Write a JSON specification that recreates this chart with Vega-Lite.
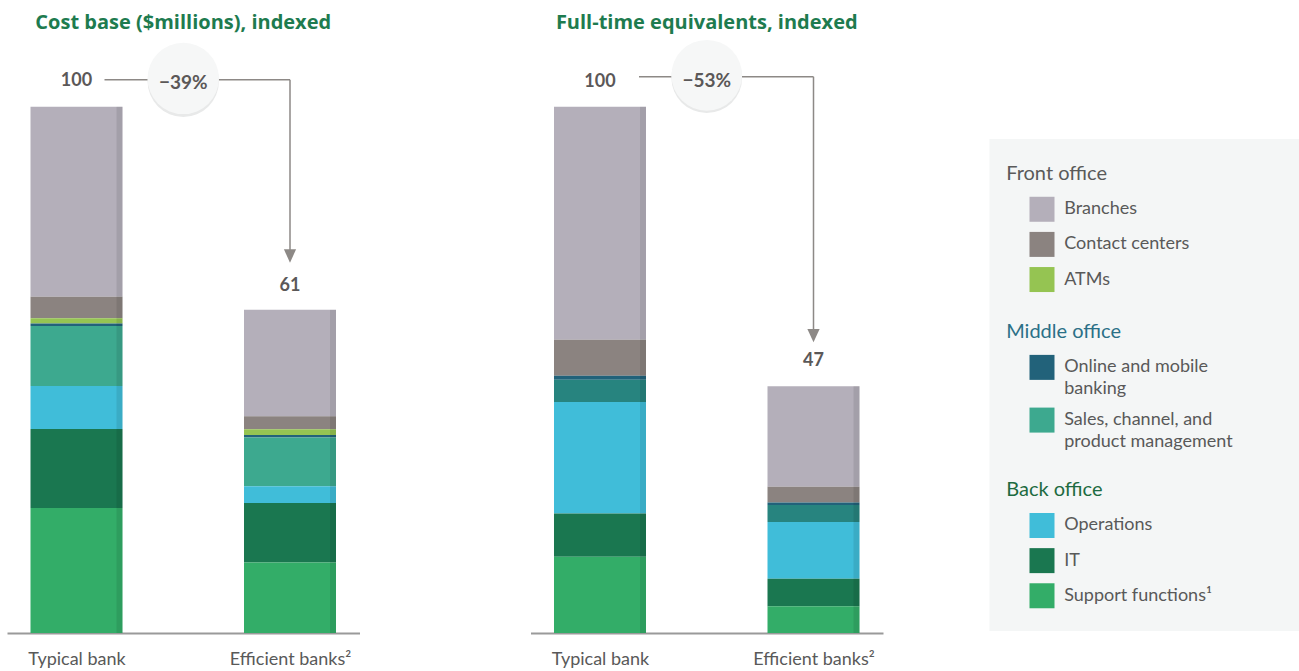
{
  "$schema": "https://vega.github.io/schema/vega-lite/v6.json",
  "padding": {"left": 7, "top": 13, "right": 0, "bottom": 0},
  "background": "white",
  "config": {
    "font": "Lato",
    "view": {"stroke": null},
    "axisX": {"domainColor": "#9a9a9a", "domainWidth": 2, "ticks": false, "grid": false, "labelAngle": 0, "labelFontSize": 18, "labelColor": "#595959", "labelPadding": 17.5, "labelFont": "Lato"}
  },
  "datasets": {
    "segments": [
      {"metric": "cost", "bank": "Typical bank", "item": "Branches", "value": 36.1, "rank": 1},
      {"metric": "cost", "bank": "Typical bank", "item": "Contact centers", "value": 4.1, "rank": 2},
      {"metric": "cost", "bank": "Typical bank", "item": "ATMs", "value": 1.0, "rank": 3},
      {"metric": "cost", "bank": "Typical bank", "item": "Online and mobile banking", "value": 0.45, "rank": 4},
      {"metric": "cost", "bank": "Typical bank", "item": "Sales, channel, and product management", "value": 11.4, "rank": 5},
      {"metric": "cost", "bank": "Typical bank", "item": "Operations", "value": 8.2, "rank": 6},
      {"metric": "cost", "bank": "Typical bank", "item": "IT", "value": 15.0, "rank": 7},
      {"metric": "cost", "bank": "Typical bank", "item": "Support functions", "value": 23.75, "rank": 8},
      {"metric": "cost", "bank": "Efficient banks²", "item": "Branches", "value": 20.2, "rank": 1},
      {"metric": "cost", "bank": "Efficient banks²", "item": "Contact centers", "value": 2.5, "rank": 2},
      {"metric": "cost", "bank": "Efficient banks²", "item": "ATMs", "value": 1.1, "rank": 3},
      {"metric": "cost", "bank": "Efficient banks²", "item": "Online and mobile banking", "value": 0.45, "rank": 4},
      {"metric": "cost", "bank": "Efficient banks²", "item": "Sales, channel, and product management", "value": 9.25, "rank": 5},
      {"metric": "cost", "bank": "Efficient banks²", "item": "Operations", "value": 3.2, "rank": 6},
      {"metric": "cost", "bank": "Efficient banks²", "item": "IT", "value": 11.3, "rank": 7},
      {"metric": "cost", "bank": "Efficient banks²", "item": "Support functions", "value": 13.4, "rank": 8},
      {"metric": "fte", "bank": "Typical bank", "item": "Branches", "value": 44.3, "rank": 1},
      {"metric": "fte", "bank": "Typical bank", "item": "Contact centers", "value": 6.8, "rank": 2},
      {"metric": "fte", "bank": "Typical bank", "item": "Online and mobile banking", "value": 0.8, "rank": 4},
      {"metric": "fte", "bank": "Typical bank", "item": "Sales, channel, and product management", "value": 4.2, "rank": 5},
      {"metric": "fte", "bank": "Typical bank", "item": "Operations", "value": 21.2, "rank": 6},
      {"metric": "fte", "bank": "Typical bank", "item": "IT", "value": 8.2, "rank": 7},
      {"metric": "fte", "bank": "Typical bank", "item": "Support functions", "value": 14.5, "rank": 8},
      {"metric": "fte", "bank": "Efficient banks²", "item": "Branches", "value": 19.1, "rank": 1},
      {"metric": "fte", "bank": "Efficient banks²", "item": "Contact centers", "value": 3.0, "rank": 2},
      {"metric": "fte", "bank": "Efficient banks²", "item": "Online and mobile banking", "value": 0.5, "rank": 4},
      {"metric": "fte", "bank": "Efficient banks²", "item": "Sales, channel, and product management", "value": 3.2, "rank": 5},
      {"metric": "fte", "bank": "Efficient banks²", "item": "Operations", "value": 10.8, "rank": 6},
      {"metric": "fte", "bank": "Efficient banks²", "item": "IT", "value": 5.2, "rank": 7},
      {"metric": "fte", "bank": "Efficient banks²", "item": "Support functions", "value": 5.1, "rank": 8}
    ],
    "totals": [
      {"metric": "cost", "bank": "Typical bank", "total": 100, "label": "100"},
      {"metric": "cost", "bank": "Efficient banks²", "total": 61, "label": "61"},
      {"metric": "fte", "bank": "Typical bank", "total": 100, "label": "100"},
      {"metric": "fte", "bank": "Efficient banks²", "total": 47, "label": "47"}
    ],
    "changes": [
      {"metric": "cost", "from": "Typical bank", "to": "Efficient banks²", "start": 100, "end": 61, "label": "−39%"},
      {"metric": "fte", "from": "Typical bank", "to": "Efficient banks²", "start": 100, "end": 47, "label": "−53%"}
    ],
    "legendGroups": [
      {"key": "Front office"},
      {"key": "Middle office"},
      {"key": "Back office"}
    ],
    "legendItems": [
      {"key": "Branches", "label": "Branches"},
      {"key": "Contact centers", "label": "Contact centers"},
      {"key": "ATMs", "label": "ATMs"},
      {"key": "Online and mobile banking", "label": "Online and mobile\nbanking"},
      {"key": "Sales, channel, and product management", "label": "Sales, channel, and\nproduct management"},
      {"key": "Operations", "label": "Operations"},
      {"key": "IT", "label": "IT"},
      {"key": "Support functions", "label": "Support functions¹"}
    ]
  },
  "resolve": {"scale": {"color": "independent"}},
  "spacing": 106.5,
  "hconcat": [
    {
      "spacing": 170.5,
      "resolve": {"scale": {"color": "independent"}},
      "hconcat": [
        {
          "width": 352.5,
          "height": 600,
          "title": {"text": "Cost base ($millions), indexed", "fontSize": 20, "fontWeight": "bold", "color": "#1e7b4f", "anchor": "middle", "baseline": "middle", "offset": -10, "font": "Open Sans"},
          "layer": [
            {
              "data": {"name": "segments"},
              "transform": [{"filter": "datum.metric === 'cost'"}],
              "mark": {"type": "bar", "width": 92},
              "encoding": {
                "x": {"field": "bank", "type": "nominal", "title": null, "scale": {"type": "point", "domain": ["Typical bank", "Efficient banks²"], "padding": 0.3255}},
                "y": {"field": "value", "type": "quantitative", "stack": "zero", "axis": null, "scale": {"domain": [0, 114], "nice": false}},
                "color": {"field": "item", "type": "nominal", "legend": null, "scale": {"domain": ["Branches", "Contact centers", "ATMs", "Online and mobile banking", "Sales, channel, and product management", "Operations", "IT", "Support functions"], "range": ["#b4afba", "#8b8380", "#95c452", "#22627a", "#3da98f", "#40bdd9", "#1a7750", "#33ad68"]}},
                "order": {"field": "rank", "sort": "descending"}
              }
            },
            {
              "data": {"name": "segments"},
              "transform": [{"filter": "datum.metric === 'cost'"}],
              "mark": {"type": "bar", "width": 6, "xOffset": 43, "color": "#000000", "opacity": 0.09},
              "encoding": {
                "x": {"field": "bank", "type": "nominal", "title": null, "scale": {"type": "point", "domain": ["Typical bank", "Efficient banks²"], "padding": 0.3255}},
                "y": {"field": "value", "type": "quantitative", "stack": "zero", "axis": null, "scale": {"domain": [0, 114], "nice": false}},
                "detail": {"field": "item"},
                "order": {"field": "rank", "sort": "descending"}
              }
            },
            {
              "data": {"name": "changes"},
              "transform": [{"filter": "datum.metric === 'cost'"}],
              "mark": {"type": "rule", "color": "#8d8986", "strokeWidth": 1.5, "xOffset": 28, "yOffset": -27},
              "encoding": {
                "x": {"field": "from", "type": "nominal", "title": null, "scale": {"type": "point", "domain": ["Typical bank", "Efficient banks²"], "padding": 0.3255}},
                "x2": {"field": "to"},
                "y": {"field": "start", "type": "quantitative", "axis": null, "scale": {"domain": [0, 114], "nice": false}}
              }
            },
            {
              "data": {"name": "changes"},
              "transform": [{"filter": "datum.metric === 'cost'"}],
              "mark": {"type": "rule", "color": "#8d8986", "strokeWidth": 1.5, "yOffset": -27, "y2Offset": -57},
              "encoding": {
                "x": {"field": "to", "type": "nominal", "title": null, "scale": {"type": "point", "domain": ["Typical bank", "Efficient banks²"], "padding": 0.3255}},
                "y": {"field": "start", "type": "quantitative", "axis": null, "scale": {"domain": [0, 114], "nice": false}},
                "y2": {"field": "end"}
              }
            },
            {
              "data": {"name": "changes"},
              "transform": [{"filter": "datum.metric === 'cost'"}],
              "mark": {"type": "point", "shape": "M-1,-1.1L1,-1.1L0,1.1Z", "size": 150, "filled": true, "opacity": 1, "color": "#8d8986", "yOffset": -56},
              "encoding": {
                "x": {"field": "to", "type": "nominal", "title": null, "scale": {"type": "point", "domain": ["Typical bank", "Efficient banks²"], "padding": 0.3255}},
                "y": {"field": "end", "type": "quantitative", "axis": null, "scale": {"domain": [0, 114], "nice": false}}
              }
            },
            {
              "data": {"name": "changes"},
              "transform": [{"filter": "datum.metric === 'cost'"}],
              "mark": {"type": "point", "shape": "circle", "size": 5100, "filled": true, "opacity": 1, "color": "#e8e9e9", "xOffset": 106.75, "yOffset": -25.5},
              "encoding": {
                "x": {"field": "from", "type": "nominal", "title": null, "scale": {"type": "point", "domain": ["Typical bank", "Efficient banks²"], "padding": 0.3255}},
                "y": {"field": "start", "type": "quantitative", "axis": null, "scale": {"domain": [0, 114], "nice": false}}
              }
            },
            {
              "data": {"name": "changes"},
              "transform": [{"filter": "datum.metric === 'cost'"}],
              "mark": {"type": "point", "shape": "circle", "size": 5100, "filled": true, "opacity": 1, "color": "#f6f7f7", "xOffset": 106.75, "yOffset": -28.3},
              "encoding": {
                "x": {"field": "from", "type": "nominal", "title": null, "scale": {"type": "point", "domain": ["Typical bank", "Efficient banks²"], "padding": 0.3255}},
                "y": {"field": "start", "type": "quantitative", "axis": null, "scale": {"domain": [0, 114], "nice": false}}
              }
            },
            {
              "data": {"name": "changes"},
              "transform": [{"filter": "datum.metric === 'cost'"}],
              "mark": {"type": "text", "fontSize": 19, "fontWeight": "bold", "color": "#5b5858", "baseline": "middle", "align": "center", "dx": 106.75, "dy": -24},
              "encoding": {
                "x": {"field": "from", "type": "nominal", "title": null, "scale": {"type": "point", "domain": ["Typical bank", "Efficient banks²"], "padding": 0.3255}},
                "y": {"field": "start", "type": "quantitative", "axis": null, "scale": {"domain": [0, 114], "nice": false}},
                "text": {"field": "label"}
              }
            },
            {
              "data": {"name": "totals"},
              "transform": [{"filter": "datum.metric === 'cost'"}],
              "mark": {"type": "text", "fontSize": 18, "fontWeight": "bold", "color": "#5b5858", "baseline": "middle", "align": "center", "dy": -26},
              "encoding": {
                "x": {"field": "bank", "type": "nominal", "title": null, "scale": {"type": "point", "domain": ["Typical bank", "Efficient banks²"], "padding": 0.3255}},
                "y": {"field": "total", "type": "quantitative", "axis": null, "scale": {"domain": [0, 114], "nice": false}},
                "text": {"field": "label"}
              }
            }
          ]
        },
        {
          "width": 352.5,
          "height": 600,
          "title": {"text": "Full-time equivalents, indexed", "fontSize": 20, "fontWeight": "bold", "color": "#1e7b4f", "anchor": "middle", "baseline": "middle", "offset": -10, "font": "Open Sans"},
          "layer": [
            {
              "data": {"name": "segments"},
              "transform": [{"filter": "datum.metric === 'fte'"}],
              "mark": {"type": "bar", "width": 92},
              "encoding": {
                "x": {"field": "bank", "type": "nominal", "title": null, "scale": {"type": "point", "domain": ["Typical bank", "Efficient banks²"], "padding": 0.3255}},
                "y": {"field": "value", "type": "quantitative", "stack": "zero", "axis": null, "scale": {"domain": [0, 114], "nice": false}},
                "color": {"field": "item", "type": "nominal", "legend": null, "scale": {"domain": ["Branches", "Contact centers", "ATMs", "Online and mobile banking", "Sales, channel, and product management", "Operations", "IT", "Support functions"], "range": ["#b4afba", "#8b8380", "#95c452", "#22627a", "#27847f", "#40bdd9", "#1a7750", "#33ad68"]}},
                "order": {"field": "rank", "sort": "descending"}
              }
            },
            {
              "data": {"name": "segments"},
              "transform": [{"filter": "datum.metric === 'fte'"}],
              "mark": {"type": "bar", "width": 6, "xOffset": 43, "color": "#000000", "opacity": 0.09},
              "encoding": {
                "x": {"field": "bank", "type": "nominal", "title": null, "scale": {"type": "point", "domain": ["Typical bank", "Efficient banks²"], "padding": 0.3255}},
                "y": {"field": "value", "type": "quantitative", "stack": "zero", "axis": null, "scale": {"domain": [0, 114], "nice": false}},
                "detail": {"field": "item"},
                "order": {"field": "rank", "sort": "descending"}
              }
            },
            {
              "data": {"name": "changes"},
              "transform": [{"filter": "datum.metric === 'fte'"}],
              "mark": {"type": "rule", "color": "#8d8986", "strokeWidth": 1.5, "xOffset": 39, "yOffset": -30},
              "encoding": {
                "x": {"field": "from", "type": "nominal", "title": null, "scale": {"type": "point", "domain": ["Typical bank", "Efficient banks²"], "padding": 0.3255}},
                "x2": {"field": "to"},
                "y": {"field": "start", "type": "quantitative", "axis": null, "scale": {"domain": [0, 114], "nice": false}}
              }
            },
            {
              "data": {"name": "changes"},
              "transform": [{"filter": "datum.metric === 'fte'"}],
              "mark": {"type": "rule", "color": "#8d8986", "strokeWidth": 1.5, "yOffset": -30, "y2Offset": -50},
              "encoding": {
                "x": {"field": "to", "type": "nominal", "title": null, "scale": {"type": "point", "domain": ["Typical bank", "Efficient banks²"], "padding": 0.3255}},
                "y": {"field": "start", "type": "quantitative", "axis": null, "scale": {"domain": [0, 114], "nice": false}},
                "y2": {"field": "end"}
              }
            },
            {
              "data": {"name": "changes"},
              "transform": [{"filter": "datum.metric === 'fte'"}],
              "mark": {"type": "point", "shape": "M-1,-1.1L1,-1.1L0,1.1Z", "size": 150, "filled": true, "opacity": 1, "color": "#8d8986", "yOffset": -50},
              "encoding": {
                "x": {"field": "to", "type": "nominal", "title": null, "scale": {"type": "point", "domain": ["Typical bank", "Efficient banks²"], "padding": 0.3255}},
                "y": {"field": "end", "type": "quantitative", "axis": null, "scale": {"domain": [0, 114], "nice": false}}
              }
            },
            {
              "data": {"name": "changes"},
              "transform": [{"filter": "datum.metric === 'fte'"}],
              "mark": {"type": "point", "shape": "circle", "size": 5000, "filled": true, "opacity": 1, "color": "#e8e9e9", "xOffset": 106.75, "yOffset": -29},
              "encoding": {
                "x": {"field": "from", "type": "nominal", "title": null, "scale": {"type": "point", "domain": ["Typical bank", "Efficient banks²"], "padding": 0.3255}},
                "y": {"field": "start", "type": "quantitative", "axis": null, "scale": {"domain": [0, 114], "nice": false}}
              }
            },
            {
              "data": {"name": "changes"},
              "transform": [{"filter": "datum.metric === 'fte'"}],
              "mark": {"type": "point", "shape": "circle", "size": 5000, "filled": true, "opacity": 1, "color": "#f6f7f7", "xOffset": 106.75, "yOffset": -31.4},
              "encoding": {
                "x": {"field": "from", "type": "nominal", "title": null, "scale": {"type": "point", "domain": ["Typical bank", "Efficient banks²"], "padding": 0.3255}},
                "y": {"field": "start", "type": "quantitative", "axis": null, "scale": {"domain": [0, 114], "nice": false}}
              }
            },
            {
              "data": {"name": "changes"},
              "transform": [{"filter": "datum.metric === 'fte'"}],
              "mark": {"type": "text", "fontSize": 19, "fontWeight": "bold", "color": "#5b5858", "baseline": "middle", "align": "center", "dx": 106.75, "dy": -25.5},
              "encoding": {
                "x": {"field": "from", "type": "nominal", "title": null, "scale": {"type": "point", "domain": ["Typical bank", "Efficient banks²"], "padding": 0.3255}},
                "y": {"field": "start", "type": "quantitative", "axis": null, "scale": {"domain": [0, 114], "nice": false}},
                "text": {"field": "label"}
              }
            },
            {
              "data": {"name": "totals"},
              "transform": [{"filter": "datum.metric === 'fte'"}],
              "mark": {"type": "text", "fontSize": 18, "fontWeight": "bold", "color": "#5b5858", "baseline": "middle", "align": "center", "dy": -24.5},
              "encoding": {
                "x": {"field": "bank", "type": "nominal", "title": null, "scale": {"type": "point", "domain": ["Typical bank", "Efficient banks²"], "padding": 0.3255}},
                "y": {"field": "total", "type": "quantitative", "axis": null, "scale": {"domain": [0, 114], "nice": false}},
                "text": {"field": "label"}
              }
            }
          ]
        }
      ]
    },
    {
      "width": 310,
      "height": 610,
      "resolve": {"scale": {"color": "independent"}},
      "layer": [
        {
          "data": {"values": [{"panel": "legend"}]},
          "mark": {"type": "rect", "color": "#f4f6f6"},
          "encoding": {
            "y": {"datum": "_top", "type": "nominal", "axis": null, "scale": {"type": "point", "range": [106, 597.9], "padding": 0, "domain": ["_top", "_g1", "Front office", "_g2", "Branches", "_g3", "Contact centers", "_g4", "ATMs", "_g5", "_g6", "Middle office", "_g7", "Online and mobile banking", "_g8", "_g9", "Sales, channel, and product management", "_g10", "_g11", "_g12", "Back office", "_g13", "Operations", "_g14", "IT", "_g15", "Support functions", "_g16", "_bottom"]}},
            "y2": {"datum": "_bottom"}
          }
        },
        {
          "data": {"name": "legendGroups"},
          "mark": {"type": "text", "align": "left", "baseline": "middle", "dx": -138.3, "fontSize": 20},
          "encoding": {
            "y": {"field": "key", "type": "nominal", "axis": null, "scale": {"type": "point", "range": [106, 597.9], "padding": 0, "domain": ["_top", "_g1", "Front office", "_g2", "Branches", "_g3", "Contact centers", "_g4", "ATMs", "_g5", "_g6", "Middle office", "_g7", "Online and mobile banking", "_g8", "_g9", "Sales, channel, and product management", "_g10", "_g11", "_g12", "Back office", "_g13", "Operations", "_g14", "IT", "_g15", "Support functions", "_g16", "_bottom"]}},
            "text": {"field": "key"},
            "color": {"field": "key", "type": "nominal", "legend": null, "scale": {"domain": ["Front office", "Middle office", "Back office"], "range": ["#5a5a5a", "#2b7087", "#1d6b41"]}}
          }
        },
        {
          "data": {"name": "legendItems"},
          "mark": {"type": "point", "shape": "square", "filled": true, "opacity": 1, "size": 625, "xOffset": -102.5},
          "encoding": {
            "y": {"field": "key", "type": "nominal", "axis": null, "scale": {"type": "point", "range": [106, 597.9], "padding": 0, "domain": ["_top", "_g1", "Front office", "_g2", "Branches", "_g3", "Contact centers", "_g4", "ATMs", "_g5", "_g6", "Middle office", "_g7", "Online and mobile banking", "_g8", "_g9", "Sales, channel, and product management", "_g10", "_g11", "_g12", "Back office", "_g13", "Operations", "_g14", "IT", "_g15", "Support functions", "_g16", "_bottom"]}},
            "color": {"field": "key", "type": "nominal", "legend": null, "scale": {"domain": ["Branches", "Contact centers", "ATMs", "Online and mobile banking", "Sales, channel, and product management", "Operations", "IT", "Support functions"], "range": ["#b4afba", "#8b8380", "#95c452", "#22627a", "#3da98f", "#40bdd9", "#1a7750", "#33ad68"]}}
          }
        },
        {
          "data": {"name": "legendItems"},
          "mark": {"type": "text", "align": "left", "baseline": "line-top", "lineHeight": 22, "lineBreak": "\n", "dx": -80.3, "dy": -11, "fontSize": 18, "color": "#595959"},
          "encoding": {
            "y": {"field": "key", "type": "nominal", "axis": null, "scale": {"type": "point", "range": [106, 597.9], "padding": 0, "domain": ["_top", "_g1", "Front office", "_g2", "Branches", "_g3", "Contact centers", "_g4", "ATMs", "_g5", "_g6", "Middle office", "_g7", "Online and mobile banking", "_g8", "_g9", "Sales, channel, and product management", "_g10", "_g11", "_g12", "Back office", "_g13", "Operations", "_g14", "IT", "_g15", "Support functions", "_g16", "_bottom"]}},
            "text": {"field": "label"}
          }
        }
      ]
    }
  ]
}
